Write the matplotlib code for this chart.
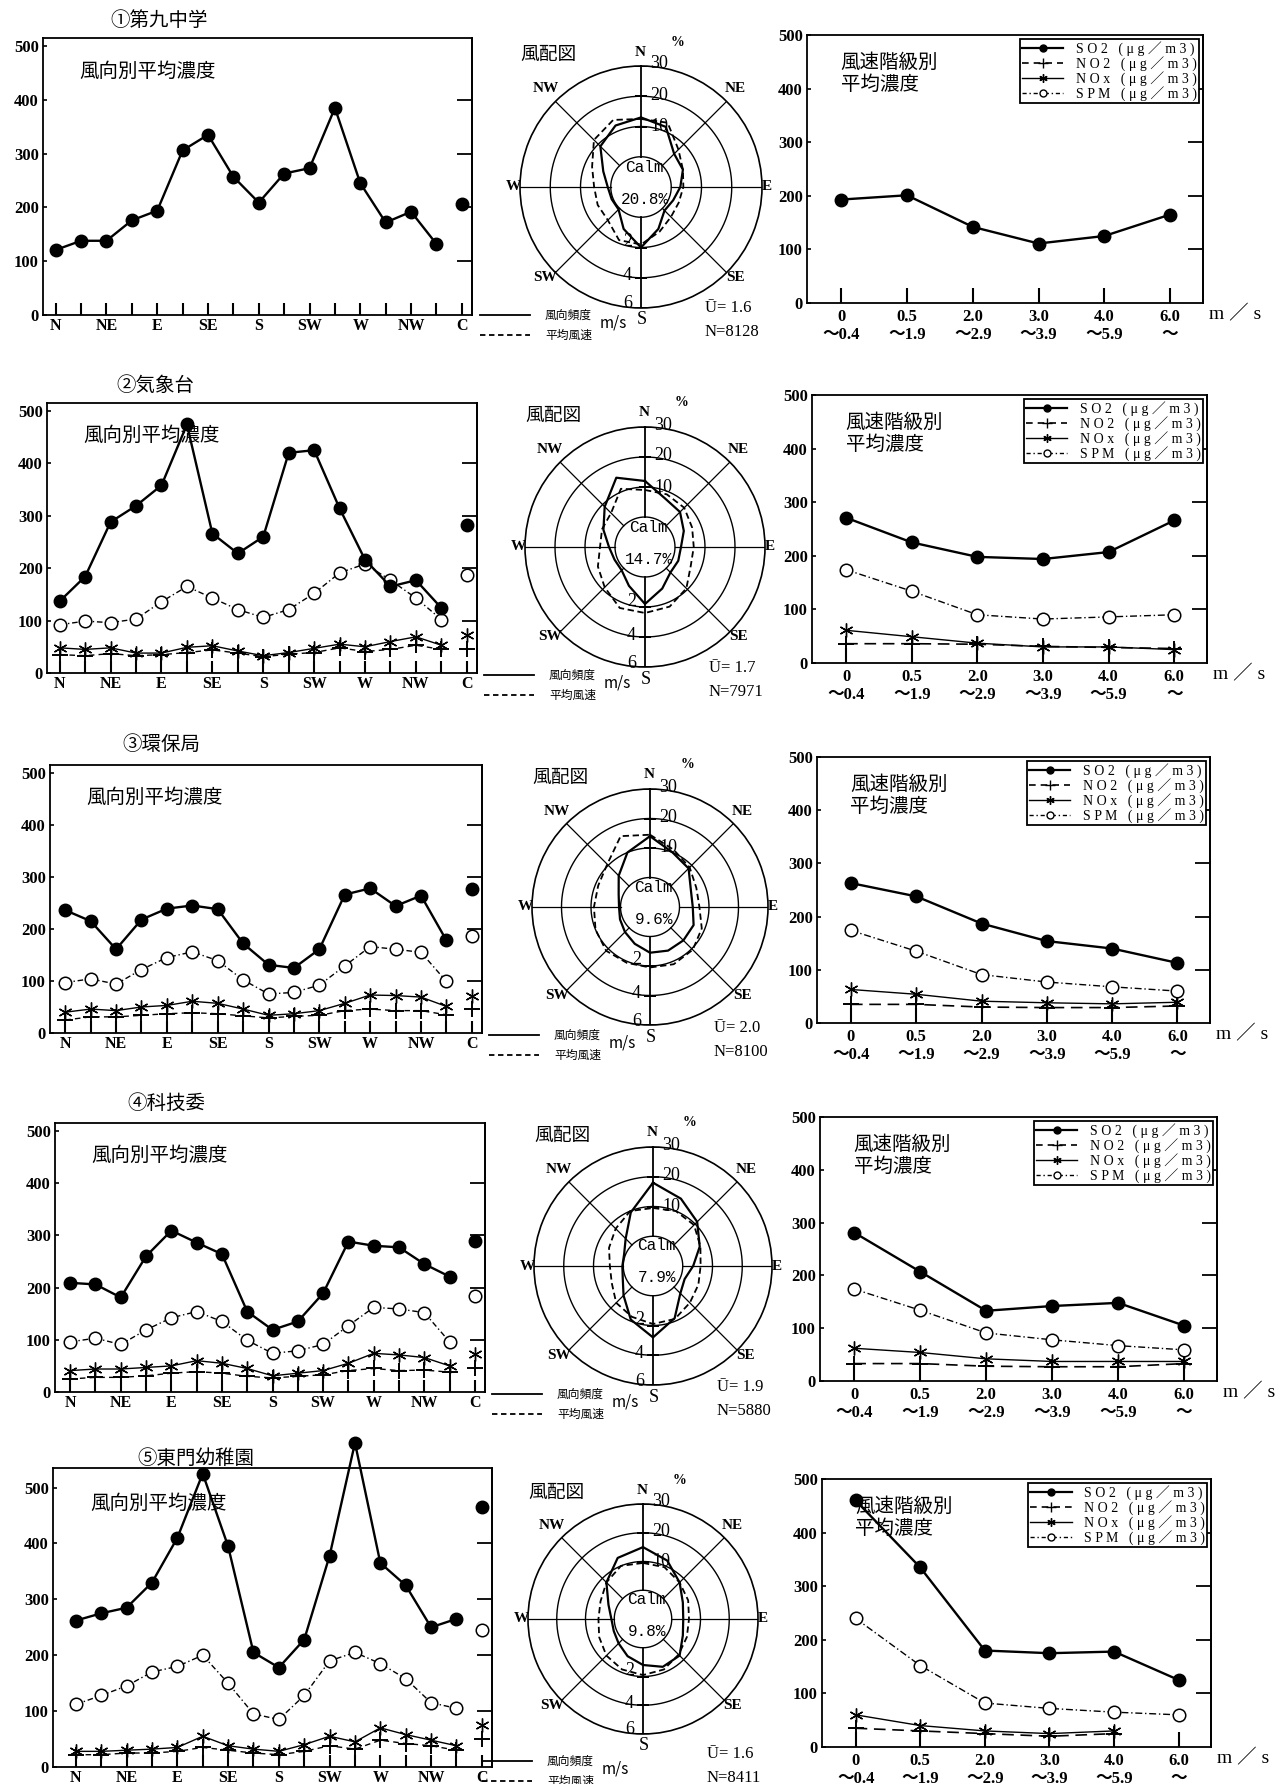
import numpy as np
import matplotlib
matplotlib.use("Agg")
import matplotlib.pyplot as plt
from matplotlib.lines import Line2D

# ---------------- data ----------------
stations = ["①第九中学", "②気象台", "③環保局", "④科技委", "⑤東門幼稚園"]
dir_labels = ["N", "", "NE", "", "E", "", "SE", "", "S", "", "SW", "", "W", "", "NW", "", "C"]
speed_labels = ["0\n～0.4", "0.5\n～1.9", "2.0\n～2.9", "3.0\n～3.9", "4.0\n～5.9", "6.0\n～"]

# mean concentration by wind direction (N, NNE, ... NNW), ug/m3
so2_dir = [
    [121, 138, 138, 176, 194, 306, 335, 257, 209, 263, 273, 385, 245, 172, 192, 132],
    [137, 184, 288, 319, 358, 474, 266, 228, 260, 420, 425, 314, 216, 165, 177, 124],
    [236, 215, 161, 218, 239, 245, 238, 172, 131, 125, 161, 266, 278, 244, 264, 178],
    [209, 206, 181, 260, 309, 286, 264, 154, 119, 135, 189, 288, 280, 277, 245, 221],
    [262, 275, 285, 330, 410, 525, 395, 205, 178, 228, 378, 580, 365, 325, 250, 265],
]
spm_dir = [
    None,
    [92, 99, 96, 103, 136, 165, 143, 121, 106, 121, 152, 191, 208, 177, 143, 102],
    [97, 104, 94, 122, 145, 156, 139, 102, 75, 78, 92, 129, 166, 161, 155, 99],
    [96, 103, 91, 119, 142, 154, 135, 99, 74, 79, 91, 127, 162, 159, 152, 96],
    [112, 128, 145, 170, 180, 200, 150, 95, 85, 128, 190, 205, 185, 158, 115, 105],
]
nox_dir = [
    None,
    [48, 45, 48, 38, 38, 49, 52, 42, 33, 39, 47, 55, 50, 60, 69, 53],
    [40, 46, 43, 50, 53, 61, 57, 46, 34, 37, 43, 57, 73, 72, 69, 51],
    [41, 44, 44, 47, 50, 60, 55, 45, 31, 36, 41, 55, 74, 71, 66, 50],
    [28, 28, 30, 32, 35, 55, 38, 32, 28, 40, 55, 45, 70, 58, 48, 38],
]
no2_dir = [
    None,
    [35, 33, 37, 33, 35, 39, 44, 38, 31, 36, 39, 48, 41, 45, 53, 45],
    [25, 31, 31, 34, 37, 39, 37, 33, 29, 32, 34, 43, 46, 43, 43, 35],
    [25, 28, 28, 31, 36, 39, 36, 30, 27, 30, 33, 41, 45, 41, 42, 38],
    [22, 22, 25, 25, 28, 35, 30, 25, 22, 28, 38, 32, 48, 42, 38, 30],
]
so2_calm = [206, 283, 276, 289, 465]
spm_calm = [None, 187, 187, 184, 245]
nox_calm = [None, 72, 72, 72, 75]
no2_calm = [None, 45, 46, 45, 50]

# mean concentration by wind speed class
so2_spd = [
    [193, 201, 142, 111, 125, 165],
    [271, 225, 198, 194, 207, 266],
    [263, 238, 187, 154, 140, 113],
    [281, 207, 133, 142, 148, 105],
    [460, 335, 180, 175, 178, 125],
]
spm_spd = [
    None,
    [174, 134, 90, 82, 86, 90],
    [174, 135, 91, 77, 68, 60],
    [174, 134, 91, 78, 67, 59],
    [240, 152, 82, 72, 65, 60],
]
nox_spd = [
    None,
    [61, 49, 37, 30, 30, 25],
    [63, 54, 41, 38, 36, 39],
    [62, 54, 42, 37, 37, 37],
    [60, 40, 30, 25, 30, None],
]
no2_spd = [
    None,
    [36, 36, 35, 31, 29, 27],
    [35, 35, 30, 29, 29, 32],
    [33, 33, 28, 27, 27, 33],
    [35, 30, 25, 20, 25, None],
]

# wind rose: frequency (%) and mean speed (m/s), N clockwise
freq = [
    [13, 11.5, 5.5, 5, 3, 1.5, 1, 5, 10, 5, 0.5, 0.5, 1, 3.5, 9, 12],
    [12, 7.5, 6.5, 4, 2, 2, 2, 5, 9, 4, 1, 1, 2, 5, 9, 15],
    [14, 10, 8.5, 5, 4.5, 6, 6, 6, 5.5, 3.5, 2, 1, 0.5, 1.5, 5, 10],
    [18, 14.5, 11, 7, 3.5, 1.5, 3, 9, 14, 9.5, 4, 1, 0.3, 0.5, 3, 9.5],
    [15, 12, 8, 5, 4, 5, 8, 8, 6, 4, 2, 1, 1, 3, 8, 13],
]
wspeed = [
    [2.5, 2.6, 1.5, 1.0, 0.8, 0.7, 0.8, 1.2, 1.8, 1.8, 1.1, 1.1, 1.1, 1.5, 2.4, 2.8],
    [1.8, 1.8, 1.7, 1.4, 1.25, 1.3, 1.9, 2.3, 2.4, 2.4, 1.8, 1.4, 1.0, 1.1, 1.2, 2.2],
    [2.9, 2.2, 1.8, 1.4, 1.35, 1.8, 2.1, 2.2, 2.1, 2.1, 2.2, 2.0, 1.8, 1.8, 2.1, 3.2],
    [1.9, 2.0, 1.9, 1.45, 1.2, 1.3, 1.5, 1.85, 1.9, 1.7, 1.5, 1.0, 0.9, 1.2, 1.55, 2.0],
    [1.9, 1.9, 1.6, 1.4, 1.2, 1.3, 1.5, 1.8, 1.9, 1.8, 1.6, 1.3, 1.1, 1.2, 1.6, 2.0],
]
calm_pct = [20.8, 14.7, 9.6, 7.9, 9.8]
u_mean = [1.6, 1.7, 2.0, 1.9, 1.6]
n_obs = [8128, 7971, 8100, 5880, 8411]

# ---------------- layout (pixels) ----------------
W, H = 1285, 1784
rows = [
    dict(left=(43, 38, 472, 315), ltop=515, lx0=-0.5, title=(110, 20), polar=(641, 187, 121),
         right=(807, 35, 1203, 303), leg_dy=0),
    dict(left=(47, 403, 477, 673), ltop=515, lx0=-0.5, title=(116, 385), polar=(645, 547, 120),
         right=(812, 395, 1207, 663), leg_dy=0),
    dict(left=(50, 765, 482, 1033), ltop=515, lx0=-0.6, title=(122, 745), polar=(650, 907, 118),
         right=(817, 757, 1210, 1023), leg_dy=0),
    dict(left=(55, 1123, 485, 1392), ltop=515, lx0=-0.6, title=(127, 1103), polar=(653, 1266, 119),
         right=(820, 1117, 1217, 1381), leg_dy=0),
    dict(left=(53, 1468, 492, 1767), ltop=535, lx0=-0.9, title=(137, 1458), polar=(643, 1619, 115),
         right=(822, 1479, 1211, 1747), leg_dy=14),
]

JP = ["Noto Sans CJK JP", "DejaVu Sans"]
NUM = ["Liberation Serif", "Noto Sans CJK JP", "DejaVu Sans"]
MONO = ["Liberation Mono", "DejaVu Sans Mono"]
AST = (6, 2, 0)  # asterisk marker

fig = plt.figure(figsize=(W / 100, H / 100), dpi=100)
fig.patch.set_facecolor("white")


def box(x0, y0, x1, y1):
    return [x0 / W, 1 - y1 / H, (x1 - x0) / W, (y1 - y0) / H]


def arr(v, n):
    if v is None:
        return np.full(n, np.nan)
    return np.array(v, dtype=float)


def val(v):
    return np.nan if v is None else float(v)


ov = fig.add_axes([0, 0, 1, 1], zorder=20)
ov.set_xlim(0, W)
ov.set_ylim(H, 0)
ov.axis("off")


def frame(ax):
    for s in ax.spines.values():
        s.set_linewidth(1.3)
    sec = ax.secondary_yaxis("right")
    sec.set_yticks([100, 200, 300, 400], labels=[])
    sec.tick_params(direction="in", length=11, width=1.3)
    sec.spines["right"].set_linewidth(1.3)
    ax.set_yticks(range(0, 501, 100))
    ax.set_yticklabels([str(v) for v in range(0, 501, 100)], fontsize=12,
                       fontweight="bold", family=NUM)
    ax.tick_params(axis="y", direction="in", length=3, width=1.2, pad=3)


for i, L in enumerate(rows):
    # ---------- concentration by wind direction ----------
    ax = fig.add_axes(box(*L["left"]))
    x16 = np.arange(16)
    ax.plot(x16, arr(nox_dir[i], 16), color="k", lw=1.0, marker=AST, ms=10, mew=1.0, clip_on=False)
    ax.plot(x16, arr(no2_dir[i], 16), color="k", lw=1.0, ls=(0, (4, 3)), marker="+", ms=11,
            mew=1.4, clip_on=False)
    ax.plot(x16, arr(spm_dir[i], 16), color="k", lw=1.0, ls=(0, (4, 2, 1, 2)), marker="o", ms=9,
            mfc="white", mew=1.1, clip_on=False)
    ax.plot(x16, arr(so2_dir[i], 16), color="k", lw=1.7, marker="o", ms=9, clip_on=False, zorder=5)
    ax.plot([16], [val(so2_calm[i])], "ko", ms=9, clip_on=False)
    ax.plot([16], [val(spm_calm[i])], "o", color="k", mfc="white", ms=9, mew=1.1)
    ax.plot([16], [val(nox_calm[i])], marker=AST, color="k", ms=10, mew=1.0, ls="none")
    ax.plot([16], [val(no2_calm[i])], "+", color="k", ms=11, mew=1.4)
    ax.set_xlim(L["lx0"], 16.4)
    ax.set_ylim(0, L["ltop"])
    ax.set_xticks(range(17))
    ax.set_xticklabels(dir_labels, fontsize=11.5, fontweight="bold", family=NUM)
    ax.tick_params(axis="x", direction="in", length=9, width=1.5, pad=2)
    frame(ax)
    ax.text(0.085, 0.88, "風向別平均濃度", transform=ax.transAxes, fontsize=14,
            family=JP, va="center", ha="left")
    tx, ty = L["title"]
    ov.text(tx, ty, stations[i], fontsize=14, family=JP, ha="left", va="center")

    # ---------- wind rose ----------
    cx, cy, R = L["polar"]
    pax = fig.add_axes(box(cx - R, cy - R, cx + R, cy + R), projection="polar")
    pax.set_theta_zero_location("N")
    pax.set_theta_direction(-1)
    pax.set_ylim(0, 4)
    pax.grid(False)
    pax.set_xticks([])
    pax.set_yticks([])
    pax.spines["polar"].set_linewidth(1.2)
    circ = np.linspace(0, 2 * np.pi, 361)
    for r in (1, 2, 3):
        pax.plot(circ, np.full_like(circ, r), color="k", lw=1.0)
    for a in range(0, 360, 45):
        pax.plot([np.deg2rad(a)] * 2, [1, 4], color="k", lw=1.3 if a % 180 == 0 else 0.9)
    pax.plot(np.zeros(3), [2, 3, 4], ls="none", marker="_", ms=9, mew=1.2, color="k")
    pax.plot(np.full(3, np.pi), [2, 3, 4], ls="none", marker="_", ms=9, mew=1.2, color="k")
    th = np.deg2rad(np.arange(16) * 22.5)
    th_c = np.append(th, th[0])
    f = np.array(freq[i], dtype=float)
    s = np.array(wspeed[i], dtype=float)
    pax.plot(th_c, 1 + np.append(f, f[0]) / 10, color="k", lw=1.6)
    pax.plot(th_c, 1 + np.append(s, s[0]) / 2, color="k", lw=1.3, ls=(0, (3.5, 2)))

    u = R / 4
    lab = dict(fontsize=11, fontweight="bold", family=NUM, ha="center", va="center")
    ov.text(cx - 1, cy - R - 14, "N", **lab)
    ov.text(cx + 1, cy + R + 12, "S", fontsize=13, family=NUM, ha="center", va="center")
    ov.text(cx + R + 5, cy, "E", **lab)
    ov.text(cx - R - 7, cy, "W", **lab)
    ov.text(cx + 0.78 * R, cy - 0.81 * R, "NE", **lab)
    ov.text(cx - 0.79 * R, cy - 0.81 * R, "NW", **lab)
    ov.text(cx + 0.78 * R, cy + 0.75 * R, "SE", **lab)
    ov.text(cx - 0.79 * R, cy + 0.75 * R, "SW", **lab)
    ov.text(cx + 37, cy - R - 24, "%", fontsize=10, fontweight="bold", family=NUM,
            ha="center", va="center")
    rl = dict(fontsize=13, family=NUM, va="center")
    ov.text(cx + 9, cy - 4 * u - 2, "30", ha="left", **rl)
    ov.text(cx + 9, cy - 3 * u - 1, "20", ha="left", **rl)
    ov.text(cx + 9, cy - 2 * u, "10", ha="left", **rl)
    ov.text(cx - 9, cy + 2 * u - 6, "2", ha="right", **rl)
    ov.text(cx - 9, cy + 3 * u - 2, "4", ha="right", **rl)
    ov.text(cx - 9, cy + 4 * u - 4, "6", ha="right", **rl)
    ov.text(cx - R, cy - R - 12, "風配図", fontsize=13.5, family=JP, ha="left", va="center")
    ov.text(cx + 3, cy - 20, "Calm", fontsize=11.5, family=MONO, ha="center", va="center")
    ov.text(cx + 4, cy + 12, f"{calm_pct[i]}%", fontsize=11.5, family=MONO, ha="center",
            va="center")

    dy = L["leg_dy"]
    ov.plot([cx - 161, cx - 111], [cy + 128 + dy] * 2, color="k", lw=1.3)
    ov.plot([cx - 161, cx - 111], [cy + 148 + dy] * 2, color="k", lw=1.3, ls=(0, (3, 2)))
    ov.text(cx - 96, cy + 128 + dy, "風向頻度", fontsize=8.5, family=JP, ha="left", va="center")
    ov.text(cx - 96, cy + 148 + dy, "平均風速", fontsize=8.5, family=JP, ha="left", va="center")
    ov.text(cx - 28, cy + 136 + dy, "m/s", fontsize=11, family=JP, ha="center", va="center")
    ov.text(cx + 64, cy + 121 + dy, f"Ū= {u_mean[i]:.1f}", fontsize=12, family=NUM,
            ha="left", va="center")
    ov.text(cx + 64, cy + 145 + dy, f"N={n_obs[i]}", fontsize=12, family=NUM,
            ha="left", va="center")

    # ---------- concentration by wind speed class ----------
    bx = fig.add_axes(box(*L["right"]))
    x6 = np.arange(6)
    bx.plot(x6, arr(nox_spd[i], 6), color="k", lw=1.0, marker=AST, ms=10, mew=1.0)
    bx.plot(x6, arr(no2_spd[i], 6), color="k", lw=1.2, ls=(0, (7, 4)), marker="+", ms=11, mew=1.4)
    bx.plot(x6, arr(spm_spd[i], 6), color="k", lw=1.0, ls=(0, (5, 2, 1, 2)), marker="o", ms=9,
            mfc="white", mew=1.1)
    bx.plot(x6, arr(so2_spd[i], 6), color="k", lw=1.7, marker="o", ms=9, zorder=5)
    bx.set_xlim(-0.52, 5.5)
    bx.set_ylim(0, 500)
    bx.set_xticks(range(6))
    bx.set_xticklabels(speed_labels, fontsize=12, fontweight="bold", family=NUM)
    bx.tick_params(axis="x", direction="in", length=11, width=1.5, pad=4)
    frame(bx)
    bx.text(0.085, 0.935, "風速階級別\n平均濃度", transform=bx.transAxes, fontsize=14,
            family=JP, va="top", ha="left", linespacing=1.05)
    handles = [
        Line2D([], [], color="k", lw=1.6, marker="o", ms=5),
        Line2D([], [], color="k", lw=1.2, ls=(0, (4, 3)), marker="+", ms=7),
        Line2D([], [], color="k", lw=1.0, marker=AST, ms=6),
        Line2D([], [], color="k", lw=1.0, ls=(0, (3, 2, 1, 2)), marker="o", ms=5, mfc="white"),
    ]
    labels = ["S O 2   ( μ g ／ m 3 )", "N O 2   ( μ g ／ m 3 )",
              "N O x   ( μ g ／ m 3 )", "S P M   ( μ g ／ m 3 )"]
    leg = bx.legend(handles, labels, loc="upper right", bbox_to_anchor=(0.99, 0.985),
                    frameon=True, fancybox=False, framealpha=1, edgecolor="k",
                    prop=dict(family=NUM, size=10), handlelength=3.0, labelspacing=0.0,
                    borderpad=0.15, handletextpad=0.9, borderaxespad=0.0,
                    markerfirst=True)
    leg.get_frame().set_linewidth(1.3)
    rx0, rt, rx1, rb = L["right"]
    ov.text(rx1 + 6, rb + 11, "m ／ s", fontsize=14, family=NUM, ha="left", va="center")

fig.savefig("out.png", dpi=100, facecolor="white")
